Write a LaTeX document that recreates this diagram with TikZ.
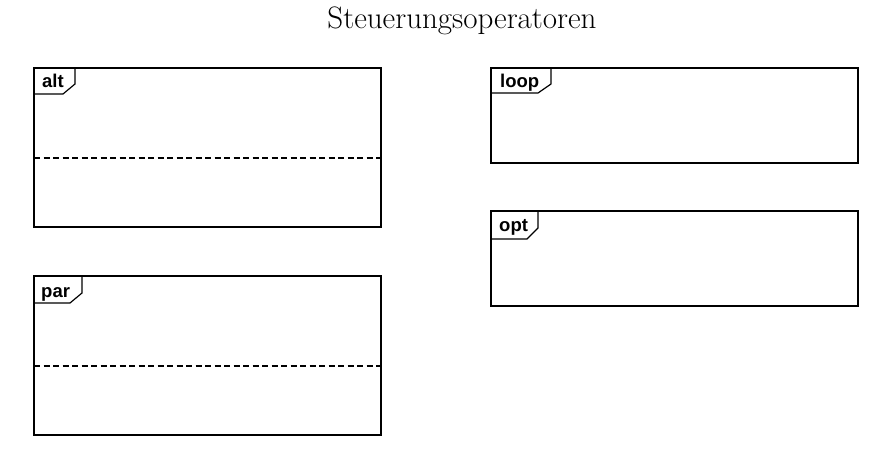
\documentclass[tikz,border=0pt]{standalone}
\usepackage{fontspec}
\newfontfamily\labfont{Liberation Sans}
\begin{document}
\begin{tikzpicture}[x=1pt,y=-1pt,
  frame/.style={draw=black,line width=1.2pt},
  tabline/.style={draw=black,line width=1.2pt},
  sep/.style={draw=black,line width=1.1pt,dash pattern=on 6pt off 3.5pt},
  lab/.style={anchor=base west,inner sep=0pt,font=\labfont\bfseries\fontsize{18.5}{20}\selectfont},
  ttl/.style={inner sep=0pt,font=\fontsize{31}{34}\selectfont}]
\useasboundingbox (0,0) rectangle (893,456);
\node[ttl] (title) at (462,21) {Steuerungsoperatoren};
% alt
\draw[frame] (34,68) rectangle (381,227);
\draw[tabline] (34,94) -- (63,94) -- (75,84) -- (75,68);
\node[lab] (alt) at (42,87) {alt};
\draw[sep] (34,158) -- (381,158);
% par
\draw[frame] (34,276) rectangle (381,435);
\draw[tabline] (34,303) -- (70,303) -- (82,293) -- (82,276);
\node[lab] (par) at (41,297) {par};
\draw[sep] (34,366) -- (381,366);
% loop
\draw[frame] (491,68) rectangle (858,163);
\draw[tabline] (491,93) -- (538,93) -- (551,84) -- (551,68);
\node[lab] (loop) at (500,87) {loop};
% opt
\draw[frame] (491,211) rectangle (858,306);
\draw[tabline] (491,239) -- (527,239) -- (538,228) -- (538,211);
\node[lab] (opt) at (499,231) {opt};
\end{tikzpicture}
\end{document}
